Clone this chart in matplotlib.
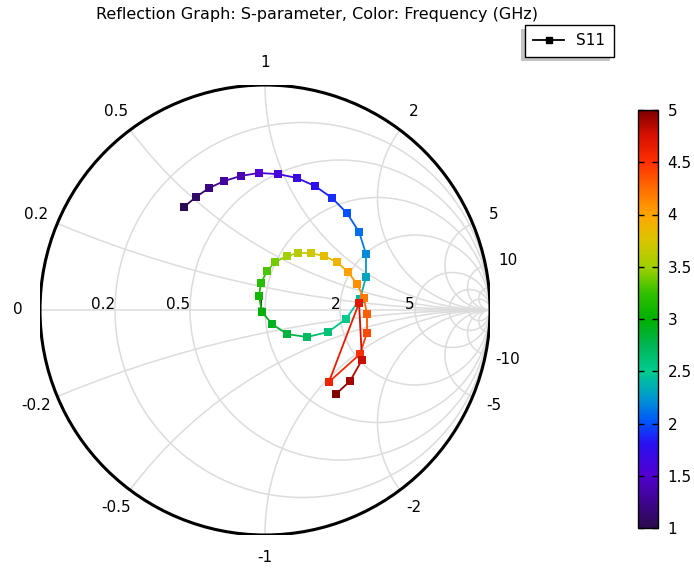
import numpy as np
import matplotlib
matplotlib.use("Agg")
import matplotlib.pyplot as plt
from matplotlib.patches import Circle, Rectangle
from matplotlib.collections import LineCollection
from matplotlib.colors import LinearSegmentedColormap, Normalize
from matplotlib.lines import Line2D

# frequency (GHz) and reflection coefficient S11 (real, imag)
freq = [1.0, 1.1, 1.2, 1.3, 1.4, 1.5, 1.6, 1.7, 1.8, 1.9,
        2.0, 2.1, 2.2, 2.3, 2.4, 2.5, 2.6, 2.7, 2.8, 2.9,
        3.0, 3.1, 3.2, 3.3, 3.4, 3.5, 3.6, 3.7, 3.8, 3.9,
        4.0, 4.1, 4.2, 4.3, 4.4, 4.5, 4.6, 4.7, 4.8, 4.9, 5.0]
s11_re = [-0.360, -0.307, -0.249, -0.182, -0.107, -0.027, 0.058, 0.142, 0.222, 0.298,
          0.364, 0.418, 0.449, 0.449, 0.422, 0.360, 0.280, 0.187, 0.098, 0.031,
          -0.013, -0.027, -0.018, 0.009, 0.044, 0.098, 0.147, 0.204, 0.262, 0.320,
          0.369, 0.409, 0.440, 0.453, 0.453, 0.422, 0.284, 0.418, 0.431, 0.378, 0.316]
s11_im = [0.458, 0.502, 0.542, 0.573, 0.596, 0.609, 0.604, 0.587, 0.551, 0.498,
          0.431, 0.347, 0.249, 0.147, 0.049, -0.040, -0.098, -0.120, -0.107, -0.062,
          -0.009, 0.062, 0.120, 0.173, 0.213, 0.240, 0.253, 0.253, 0.240, 0.213,
          0.169, 0.116, 0.053, -0.018, -0.102, -0.196, -0.320, 0.031, -0.222, -0.316, -0.373]

r_grid = [0.2, 0.5, 1, 2, 5, 10, 20]
x_grid = [0.2, 0.5, 1, 2, 5, 10, 20]
r_labels = [0.2, 0.5, 1, 2, 5]
x_labels = [0, 0.2, 0.5, 1, 2, 5, 10, -0.2, -0.5, -1, -2, -5, -10]
cbar_ticks = [1, 1.5, 2, 2.5, 3, 3.5, 4, 4.5, 5]

cmap = LinearSegmentedColormap.from_list("comsol_rainbow", [
    (0.000, "#2a0a50"), (0.125, "#5200d0"), (0.200, "#2a10f0"),
    (0.250, "#0050ff"), (0.310, "#0098d0"), (0.375, "#00cc90"),
    (0.440, "#00b450"), (0.500, "#00b000"), (0.560, "#30c000"),
    (0.625, "#a0d000"), (0.690, "#dcc400"), (0.750, "#ffa500"),
    (0.810, "#ff7000"), (0.875, "#ff3000"), (0.940, "#d81000"),
    (1.000, "#800000")])
norm = Normalize(1, 5)

fig = plt.figure(figsize=(6.94, 5.70), dpi=100)
ax = fig.add_axes([40/694, 35/570, 450/694, 450/570])
ax.set_xlim(-1, 1)
ax.set_ylim(-1, 1)
ax.set_aspect("equal")
ax.axis("off")

grid_col = "#dcdcdc"
clip = Circle((0, 0), 1, transform=ax.transData)
for r in r_grid:
    c = Circle((r/(1+r), 0), 1/(1+r), fill=False, ec=grid_col, lw=1.1, zorder=1)
    ax.add_patch(c)
    c.set_clip_path(clip)
for x in x_grid:
    for s in (1, -1):
        c = Circle((1, s/x), 1/x, fill=False, ec=grid_col, lw=1.1, zorder=1)
        ax.add_patch(c)
        c.set_clip_path(clip)
ax.plot([-1, 1], [0, 0], color=grid_col, lw=1.1, zorder=1)
ax.add_patch(Circle((0, 0), 1, fill=False, ec="black", lw=2.2, zorder=4))

# labels
for r in r_labels:
    ax.text((r-1)/(r+1), 0.005, f"{r:g}", ha="right", va="baseline", fontsize=11, zorder=2)
for x in x_labels:
    g = (1j*x - 1)/(1j*x + 1)
    ax.text(1.1*g.real, 1.1*g.imag, f"{x:g}", ha="center", va="center", fontsize=11, clip_on=False)

# data
re = np.array(s11_re)
im = np.array(s11_im)
f = np.array(freq)
segs = np.stack([np.column_stack([re[:-1], im[:-1]]), np.column_stack([re[1:], im[1:]])], axis=1)
lc = LineCollection(segs, colors=cmap(norm((f[:-1] + f[1:])/2)), lw=1.3, zorder=5)
ax.add_collection(lc)
ax.scatter(re, im, c=f, cmap=cmap, norm=norm, marker="s", s=30, lw=0, zorder=6)

fig.text(317/694, 1 - 15/570, "Reflection Graph: S-parameter, Color: Frequency (GHz)",
         ha="center", va="center", fontsize=11.5)

handle = Line2D([], [], color="black", lw=1.3, marker="s", markersize=5)
leg = fig.legend([handle], ["S11"], loc="upper left", bbox_to_anchor=(525/694, 1 - 25/570),
                 fontsize=11, frameon=True, fancybox=False, shadow=False, framealpha=1,
                 handlelength=2.0, borderpad=0.55, handletextpad=0.8, borderaxespad=0)
leg.get_frame().set_edgecolor("black")
leg.get_frame().set_linewidth(1.0)
leg.set_zorder(5)

# legend shadow (down-left)
fig.canvas.draw()
bb = leg.get_window_extent()
shadow = Rectangle((bb.x0 - 4, bb.y0 - 4), bb.width, bb.height, transform=None,
                   facecolor="#c4c4c4", edgecolor="none", zorder=4)
fig.patches.append(shadow)
shadow.set_figure(fig)

cax = fig.add_axes([638/694, 42/570, 20/694, 418/570])
sm = plt.cm.ScalarMappable(norm=norm, cmap=cmap)
cb = fig.colorbar(sm, cax=cax, ticks=cbar_ticks)
cb.ax.set_yticklabels([f"{t:g}" for t in cbar_ticks])
cb.ax.tick_params(direction="in", length=4, width=1, labelsize=11, left=True, right=True, pad=7)
cb.outline.set_linewidth(1.0)

fig.savefig("out.png", dpi=100)
